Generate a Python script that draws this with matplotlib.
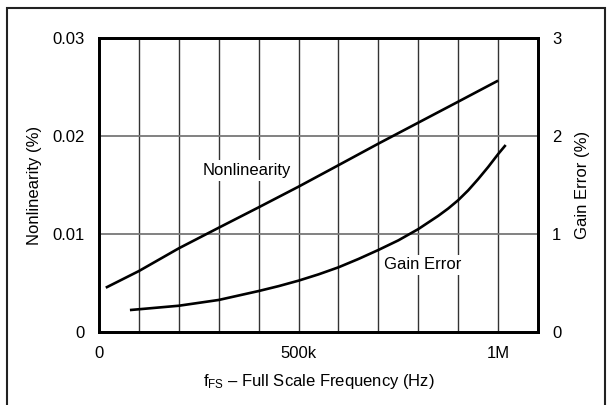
import matplotlib
matplotlib.use("Agg")
import matplotlib.pyplot as plt
from matplotlib.patches import Rectangle

plt.rcParams['font.family'] = ['Liberation Sans', 'DejaVu Sans']
plt.rcParams['mathtext.fontset'] = 'custom'
plt.rcParams['mathtext.rm'] = 'Liberation Sans'
plt.rcParams['mathtext.it'] = 'Liberation Sans'

# Data (frequency in Hz)
freq_nl = [17e3, 100e3, 200e3, 300e3, 400e3, 500e3, 600e3, 700e3, 800e3, 900e3, 1000e3]
nonlinearity = [0.00452, 0.00622, 0.00854, 0.01064, 0.01272, 0.01483, 0.01702, 0.01922, 0.02136, 0.0235, 0.02565]

freq_ge = [77.5e3, 100e3, 200e3, 300e3, 400e3, 450e3, 500e3, 550e3, 600e3, 650e3,
           700e3, 750e3, 800e3, 850e3, 875e3, 900e3, 925e3, 950e3, 975e3, 1000e3, 1019e3]
gain_error = [0.224, 0.232, 0.268, 0.327, 0.418, 0.468, 0.524, 0.588, 0.66, 0.745,
              0.837, 0.935, 1.05, 1.185, 1.26, 1.345, 1.445, 1.56, 1.683, 1.815, 1.908]

x_ticks = [0, 500e3, 1e6]
x_ticklabels = ['0', '500k', '1M']
y_left_ticks = [0, 0.01, 0.02, 0.03]
y_left_labels = ['0', '0.01', '0.02', '0.03']
y_right_ticks = [0, 1, 2, 3]
y_right_labels = ['0', '1', '2', '3']
v_grid = [100e3 * i for i in range(1, 11)]
h_grid = [0.01, 0.02]

W, H = 610, 405
fig = plt.figure(figsize=(W / 100, H / 100), dpi=100)
fig.patch.set_facecolor('white')

# outer border
fig.patches.append(Rectangle((7 / W, -0.05), (605 - 7) / W, (H - 8) / H + 0.05,
                             transform=fig.transFigure, fill=False,
                             edgecolor='#222222', linewidth=1.5, zorder=0))

ax = fig.add_axes([99 / W, (H - 332) / H, (538 - 99) / W, (332 - 38) / H])
ax.set_xlim(0, 1.1e6)
ax.set_ylim(0, 0.03)

for xv in v_grid:
    ax.axvline(xv, color='#333333', linewidth=1.0, zorder=1)
for yv in h_grid:
    ax.axhline(yv, color='#777777', linewidth=1.3, zorder=1)

ax.plot(freq_nl, nonlinearity, color='black', linewidth=1.9, zorder=3,
        solid_capstyle='butt', solid_joinstyle='round')

ax.set_xticks(x_ticks)
ax.set_xticklabels(x_ticklabels)
ax.set_yticks(y_left_ticks)
ax.set_yticklabels(y_left_labels)
ax.tick_params(axis='both', length=0, pad=10, labelsize=12)
for s in ax.spines.values():
    s.set_linewidth(2.0)

ax.set_xlabel(r'f$_{\mathrm{FS}}$ – Full Scale Frequency (Hz)', fontsize=12, labelpad=8)
ax.set_ylabel('Nonlinearity (%)', fontsize=12, labelpad=8)

ax2 = ax.twinx()
ax2.set_ylim(0, 3)
ax2.set_yticks(y_right_ticks)
ax2.set_yticklabels(y_right_labels)
ax2.tick_params(axis='y', length=0, pad=10, labelsize=12)
for s in ax2.spines.values():
    s.set_linewidth(2.0)
ax2.plot(freq_ge, gain_error, color='black', linewidth=1.9, zorder=3,
         solid_capstyle='butt', solid_joinstyle='round')
ax2.set_ylabel('Gain Error (%)', fontsize=12, labelpad=10)

ax2.text(0.371e6, 1.646, 'Nonlinearity', fontsize=12, ha='center', va='center',
         bbox=dict(facecolor='white', edgecolor='none', pad=2), zorder=4)
ax2.text(0.811e6, 0.684, 'Gain Error', fontsize=12, ha='center', va='center',
         bbox=dict(facecolor='white', edgecolor='none', pad=2), zorder=4)

fig.savefig('out.png', dpi=100)
